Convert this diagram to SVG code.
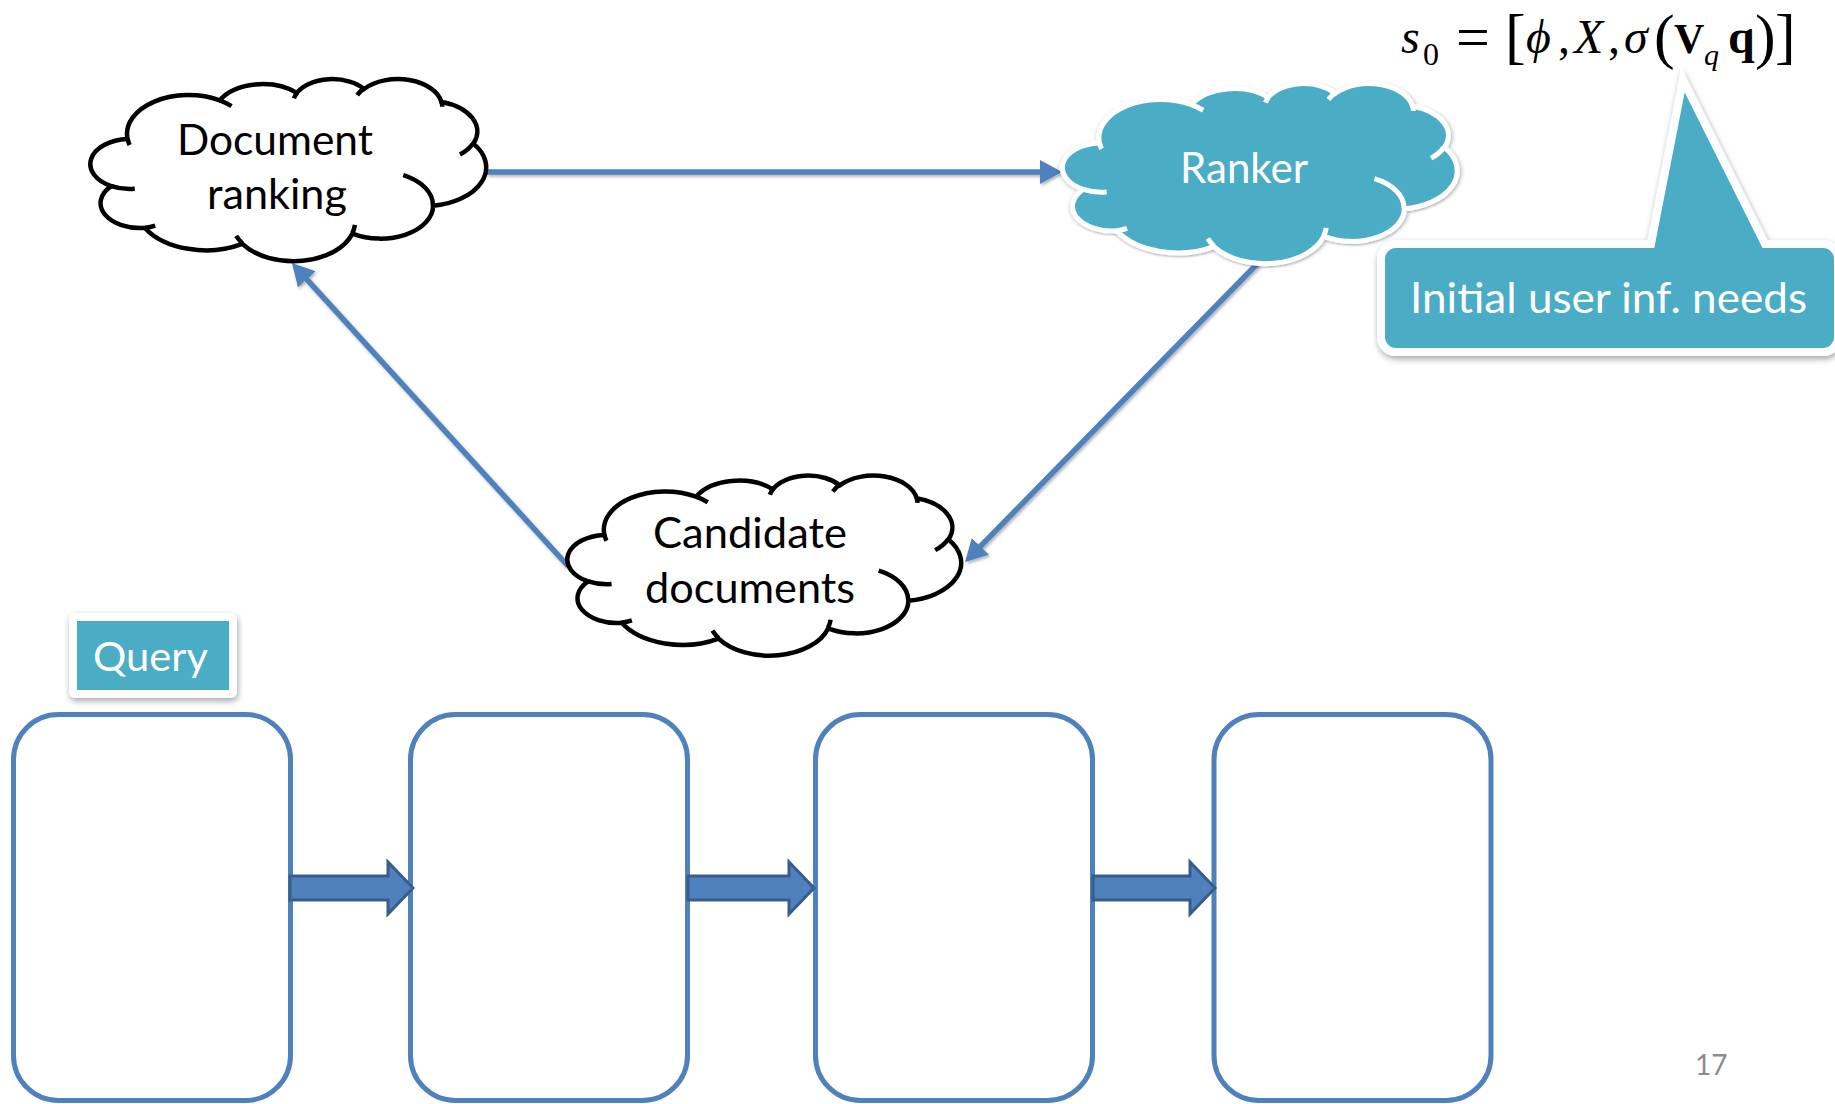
<svg xmlns="http://www.w3.org/2000/svg" xmlns:xlink="http://www.w3.org/1999/xlink" width="1835" height="1104" viewBox="0 0 1835 1104">
  <style>
    .lbl { font-family: Lato, "Open Sans", "Liberation Sans", sans-serif; font-size: 42px; fill: #000; }
    .lbl-w { fill: #fff; }
    .mid { text-anchor: middle; }
    .math { font-family: "Liberation Serif", "DejaVu Serif", serif; font-size: 48px; fill: #000; }
    .it { font-style: italic; }
    .bf { font-weight: bold; }
    .cloud-plain { fill: #fff; stroke: #000; stroke-width: 4.5; }
    .cloud-plain-w { fill: none; stroke: #000; stroke-width: 4.5; }
    .cloud-teal { fill: #4BACC6; stroke: #fff; stroke-width: 5; }
    .cloud-teal-w { fill: none; stroke: #fff; stroke-width: 5; }
    .step { fill: #fff; stroke: #4F81BD; stroke-width: 5; }
    .conn { fill: none; stroke: #4F81BD; stroke-width: 5.5; }
    .block { fill: #4F81BD; stroke: #385D8A; stroke-width: 3; stroke-linejoin: miter; }
    .tag { fill: #4BACC6; stroke: #fff; stroke-width: 8; }
  </style>
  <defs>
    <filter id="shadow" x="-10%" y="-10%" width="120%" height="130%">
      <feDropShadow dx="1" dy="3" stdDeviation="3" flood-color="#000" flood-opacity="0.35"/>
    </filter>
    <filter id="lineShadow" x="-5%" y="-5%" width="110%" height="110%">
      <feDropShadow dx="1.5" dy="2" stdDeviation="1.5" flood-color="#000" flood-opacity="0.3"/>
    </filter>
    <!-- cloud outline in a 432 x 432 frame -->
    <path id="cloudOutline" vector-effect="non-scaling-stroke" d="M 39.00 143.70 A 67.53 91.90 0 0 1 140.05 52.02 A 53.33 72.67 0 0 1 224.56 34.31 A 43.65 59.45 0 0 1 298.33 24.80 A 48.57 65.95 0 0 1 383.18 55.76 A 53.33 72.73 0 0 1 418.19 154.59 A 67.75 92.20 0 0 1 374.05 302.03 A 57.85 78.67 0 0 1 285.56 368.13 A 67.52 92.15 0 0 1 164.81 392.64 A 77.20 105.43 0 0 1 58.05 354.70 A 43.60 59.18 0 0 1 21.14 255.48 A 43.45 59.45 0 0 1 39.00 143.70 Z"/>
    <!-- inner fold strokes of the cloud -->
    <path id="cloudFolds" vector-effect="non-scaling-stroke" d="M 46.93 261.77 A 43.45 59.45 0 0 1 21.14 255.48 M 69.28 348.99 A 43.60 59.18 0 0 1 58.05 354.70 M 164.78 390.90 A 67.52 92.15 0 0 1 158.10 373.50 M 288.27 347.51 A 67.52 92.15 0 0 1 285.60 366.60 M 341.29 229.54 A 57.85 78.67 0 0 1 373.81 300.90 M 417.98 153.54 A 53.33 72.73 0 0 1 403.50 180.30 M 383.24 54.26 A 48.57 65.95 0 0 1 384.00 66.90 M 290.78 39.52 A 48.57 65.95 0 0 1 298.20 23.41 M 221.41 47.20 A 43.65 59.45 0 0 1 225.00 33.30 M 140.00 51.92 A 67.53 91.90 0 0 1 152.98 65.39 M 41.27 157.89 A 67.53 91.90 0 0 1 39.00 143.71"/>
    <marker id="arrowHead" markerUnits="userSpaceOnUse" markerWidth="24" markerHeight="26" refX="12" refY="12" orient="auto">
      <path d="M0,0 L22,12 L0,24 Z" fill="#4F81BD"/>
    </marker>
  </defs>

  <!-- connectors between the clouds -->
  <g id="connectors" filter="url(#lineShadow)">
    <line class="conn" x1="487" y1="172" x2="1052" y2="172" marker-end="url(#arrowHead)"/>
    <line class="conn" x1="1258" y1="263" x2="972" y2="554.9" marker-end="url(#arrowHead)"/>
    <line class="conn" x1="568" y1="566" x2="298.7" y2="270.4" marker-end="url(#arrowHead)"/>
  </g>

  <g id="node-document-ranking">
    <g transform="translate(92,78.5) scale(0.912,0.4213)">
      <use xlink:href="#cloudOutline" class="cloud-plain"/>
      <use xlink:href="#cloudFolds" class="cloud-plain-w"/>
    </g>
    <text class="lbl mid" x="275" y="155" textLength="196" lengthAdjust="spacingAndGlyphs">Document</text>
    <text class="lbl mid" x="277" y="209" textLength="140" lengthAdjust="spacingAndGlyphs">ranking</text>
  </g>

  <g id="node-ranker">
    <g transform="translate(1064,83) scale(0.9097,0.4167)">
      <use xlink:href="#cloudOutline" class="cloud-teal" filter="url(#shadow)"/>
      <use xlink:href="#cloudFolds" class="cloud-teal-w"/>
    </g>
    <text class="lbl lbl-w mid" x="1244" y="183" textLength="128" lengthAdjust="spacingAndGlyphs">Ranker</text>
  </g>

  <g id="node-candidate-documents">
    <g transform="translate(569,475) scale(0.9074,0.4167)">
      <use xlink:href="#cloudOutline" class="cloud-plain"/>
      <use xlink:href="#cloudFolds" class="cloud-plain-w"/>
    </g>
    <text class="lbl mid" x="750" y="548" textLength="194" lengthAdjust="spacingAndGlyphs">Candidate</text>
    <text class="lbl mid" x="750" y="603" textLength="210" lengthAdjust="spacingAndGlyphs">documents</text>
  </g>

  <g id="node-initial-needs">
    <path class="tag" filter="url(#shadow)" d="M 1396 244 L 1651 244 L 1683 80 L 1765 244 L 1823 244 A 15 15 0 0 1 1838 259 L 1838 337 A 15 15 0 0 1 1823 352 L 1396 352 A 15 15 0 0 1 1381 337 L 1381 259 A 15 15 0 0 1 1396 244 Z"/>
    <text class="lbl lbl-w" x="1410" y="313" style="font-size:43px" textLength="397" lengthAdjust="spacingAndGlyphs">Initial user inf. needs</text>
  </g>

  <g id="formula">
    <text class="math">
      <tspan class="it" x="1401" y="53">s</tspan>
      <tspan x="1423" y="65" font-size="32">0</tspan>
      <tspan x="1456" y="57" font-size="60">=</tspan>
      <tspan x="1505" y="57" font-size="62">[</tspan>
      <tspan class="it" x="1526" y="53">ϕ</tspan>
      <tspan x="1558" y="53">,</tspan>
      <tspan class="it" x="1574" y="53">X</tspan>
      <tspan x="1608" y="53">,</tspan>
      <tspan class="it" x="1624" y="53">σ</tspan>
      <tspan x="1654" y="57" font-size="62">(</tspan>
      <tspan class="bf" x="1674" y="53" font-size="42">V</tspan>
      <tspan class="it" x="1704" y="65" font-size="30">q</tspan>
      <tspan class="bf" x="1728" y="53">q</tspan>
      <tspan x="1755" y="57" font-size="62">)</tspan>
      <tspan x="1775" y="57" font-size="62">]</tspan>
    </text>
  </g>

  <g id="node-query">
    <rect class="tag" x="73" y="617" width="160" height="77" rx="2" filter="url(#shadow)"/>
    <text class="lbl lbl-w" x="93" y="671" style="font-size:41px" textLength="115" lengthAdjust="spacingAndGlyphs">Query</text>
  </g>

  <g id="node-step-1"><rect class="step" x="13.5" y="714.5" width="277" height="386" rx="45"/></g>
  <g id="node-step-2"><rect class="step" x="410.5" y="714.5" width="277" height="386" rx="45"/></g>
  <g id="node-step-3"><rect class="step" x="815.5" y="714.5" width="277" height="386" rx="45"/></g>
  <g id="node-step-4"><rect class="step" x="1214" y="714.5" width="277" height="386" rx="45"/></g>

  <!-- block arrows linking the steps -->
  <g id="step-arrows">
    <path class="block" d="M 290 876 L 388 876 L 388 862 L 413 888 L 388 914 L 388 900 L 290 900 Z"/>
    <path class="block" d="M 688 876 L 789 876 L 789 862 L 814 888 L 789 914 L 789 900 L 688 900 Z"/>
    <path class="block" d="M 1093 876 L 1190 876 L 1190 862 L 1215 888 L 1190 914 L 1190 900 L 1093 900 Z"/>
  </g>

  <text class="lbl" x="1695" y="1075" style="font-size:28px; fill:#8b8b8b">17</text>
</svg>
